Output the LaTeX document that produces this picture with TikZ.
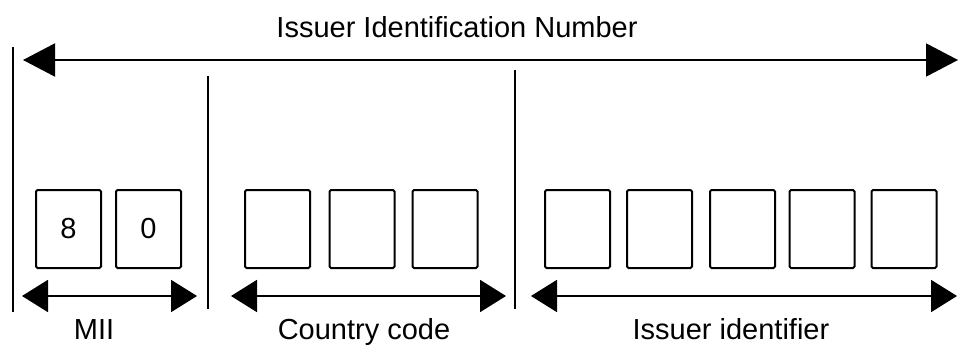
\documentclass[tikz,border=0pt]{standalone}
\usepackage{fontspec}
\setmainfont{Liberation Sans}
\usetikzlibrary{arrows.meta}
\begin{document}
\begin{tikzpicture}[x=1pt,y=-1pt,
  digit/.style={draw,line width=2pt,rounded corners=1.5pt,minimum width=65pt,minimum height=78pt,inner sep=0pt,font=\fontsize{29}{34}\selectfont},
  lbl/.style={anchor=base,inner sep=0pt,font=\fontsize{29}{34}\selectfont},
  divider/.style={line width=2pt},
  bigspan/.style={line width=2pt,{Triangle[length=32pt,width=33pt]}-{Triangle[length=32pt,width=33pt]}},
  span/.style={line width=2pt,{Triangle[length=26pt,width=32pt]}-{Triangle[length=26pt,width=32pt]}}]
\useasboundingbox (0,0) rectangle (961,345);
% title
\node[lbl] (title) at (457,38) {Issuer Identification Number};
\coordinate (tl) at (23,60);
\coordinate (tr) at (958,60);
\draw[bigspan] (tl) -- (tr);
% dividers
\coordinate (d1a) at (13,47);  \coordinate (d1b) at (13,312);
\coordinate (d2a) at (208,76); \coordinate (d2b) at (208,309);
\coordinate (d3a) at (515,70); \coordinate (d3b) at (515,309);
\draw[divider] (d1a) -- (d1b);
\draw[divider] (d2a) -- (d2b);
\draw[divider] (d3a) -- (d3b);
% MII boxes
\node[digit] (m1) at (68.5,229) {8};
\node[digit] (m2) at (148.5,229) {0};
% country boxes
\node[digit] (c1) at (277.5,229) {};
\node[digit] (c2) at (362,229) {};
\node[digit] (c3) at (445,229) {};
% issuer boxes
\node[digit] (i1) at (577.5,229) {};
\node[digit] (i2) at (659.5,229) {};
\node[digit] (i3) at (742.5,229) {};
\node[digit] (i4) at (822,229) {};
\node[digit] (i5) at (904,229) {};
% span arrows
\coordinate (ml) at (22,296);  \coordinate (mr) at (197,296);
\coordinate (cl) at (231,296); \coordinate (cr) at (506,296);
\coordinate (il) at (531,296); \coordinate (ir) at (957,296);
\draw[span] (ml) -- (mr);
\draw[span] (cl) -- (cr);
\draw[span] (il) -- (ir);
% labels
\node[lbl] (mii) at (94,339) {MII};
\node[lbl] (cc) at (364,339) {Country code};
\node[lbl] (ii) at (731,339) {Issuer identifier};
\end{tikzpicture}
\end{document}
